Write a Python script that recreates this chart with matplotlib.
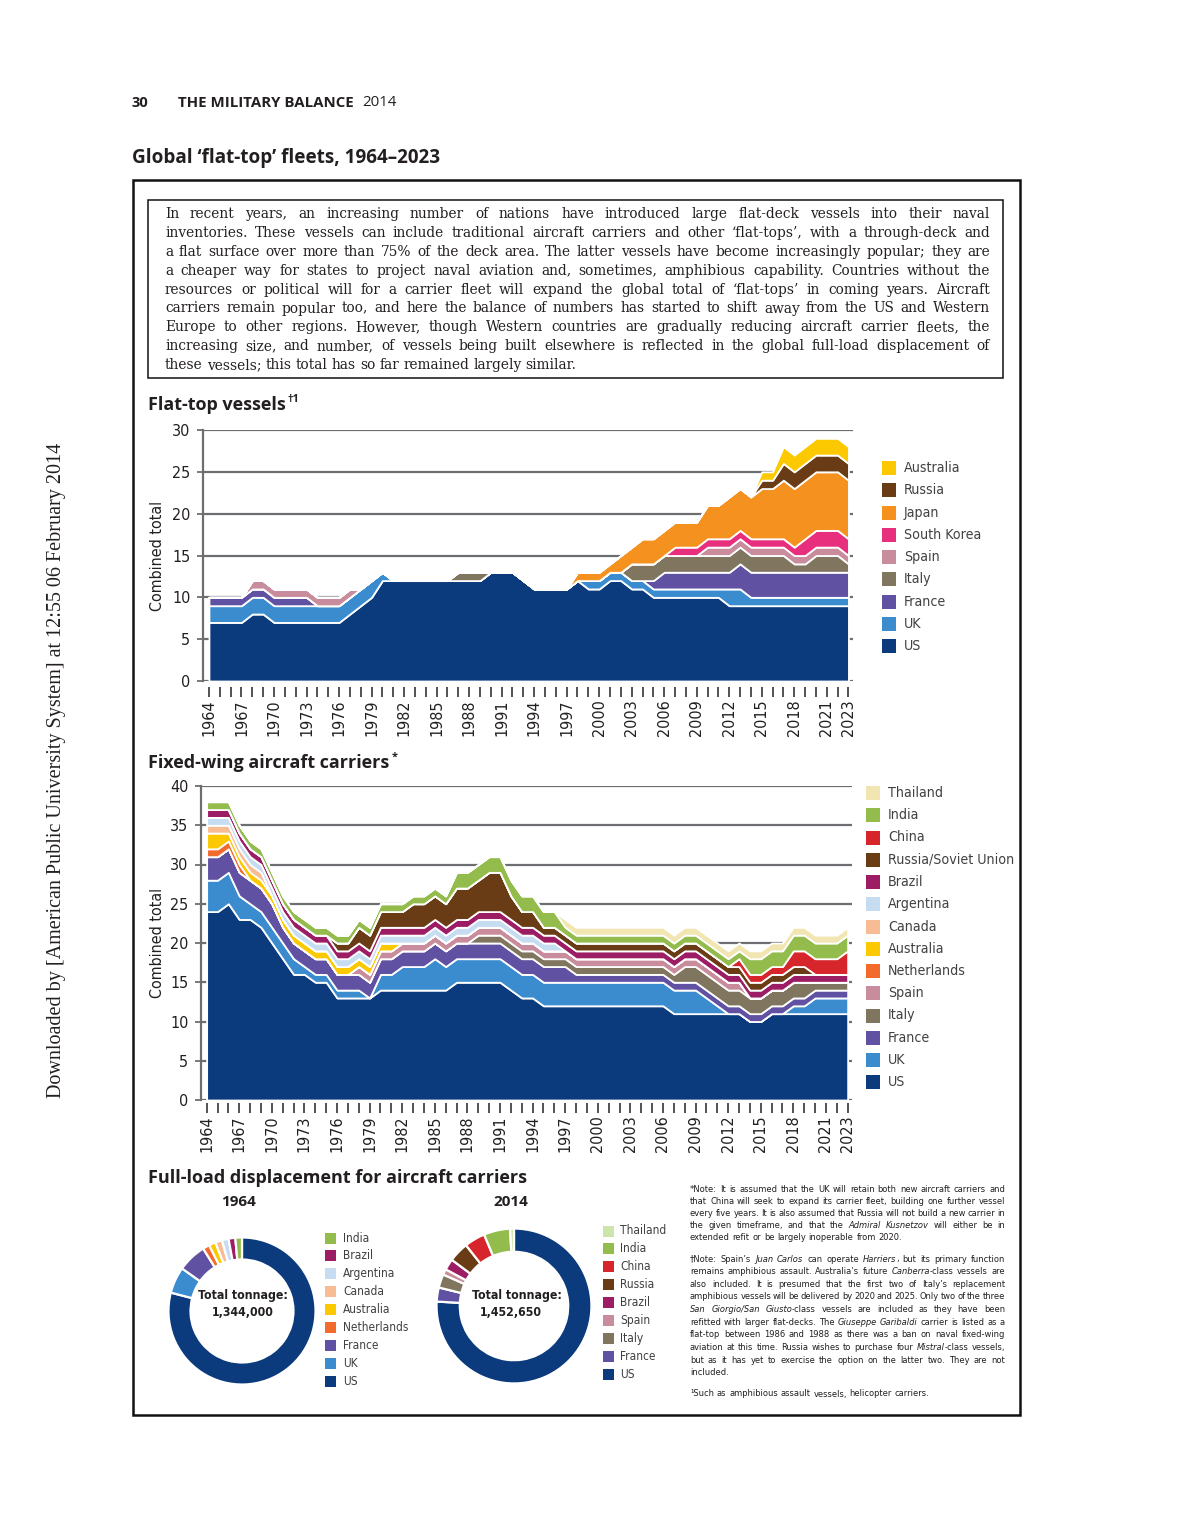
import matplotlib.pyplot as plt
from matplotlib.patches import Rectangle
from matplotlib import font_manager as fm

# ---------------- data ----------------
years = list(range(1964, 2024))
tick_years = [1964, 1967, 1970, 1973, 1976, 1979, 1982, 1985, 1988, 1991, 1994,
              1997, 2000, 2003, 2006, 2009, 2012, 2015, 2018, 2021, 2023]

# flat-top vessels, 1964..2023 (stack order bottom -> top)
ft_us = [7, 7, 7, 7, 8, 8, 7, 7, 7, 7,
         7, 7, 7, 8, 9, 10, 12, 12, 12, 12,
         12, 12, 12, 12, 12, 12, 13, 13, 13, 12,
         11, 11, 11, 11, 12, 11, 11, 12, 12, 11,
         11, 10, 10, 10, 10, 10, 10, 10, 9, 9,
         9, 9, 9, 9, 9, 9, 9, 9, 9, 9]
ft_uk = [2, 2, 2, 2, 2, 2, 2, 2, 2, 2,
         2, 2, 2, 2, 2, 2, 1, 0, 0, 0,
         0, 0, 0, 0, 0, 0, 0, 0, 0, 0,
         0, 0, 0, 0, 0, 1, 1, 1, 1, 1,
         1, 1, 1, 1, 1, 1, 1, 1, 2, 2,
         1, 1, 1, 1, 1, 1, 1, 1, 1, 1]
ft_france = [1, 1, 1, 1, 1, 1, 1, 1, 1, 1,
             0, 0, 0, 0, 0, 0, 0, 0, 0, 0,
             0, 0, 0, 0, 0, 0, 0, 0, 0, 0,
             0, 0, 0, 0, 0, 0, 0, 0, 0, 0,
             0, 1, 2, 2, 2, 2, 2, 2, 2, 3,
             3, 3, 3, 3, 3, 3, 3, 3, 3, 3]
ft_italy = [0, 0, 0, 0, 0, 0, 0, 0, 0, 0,
            0, 0, 0, 0, 0, 0, 0, 0, 0, 0,
            0, 0, 0, 1, 1, 1, 0, 0, 0, 0,
            0, 0, 0, 0, 0, 0, 0, 0, 0, 2,
            2, 2, 2, 2, 2, 2, 2, 2, 2, 2,
            2, 2, 2, 2, 1, 1, 2, 2, 2, 1]
ft_spain = [0, 0, 0, 0, 1, 1, 1, 1, 1, 1,
            1, 1, 1, 1, 0, 0, 0, 0, 0, 0,
            0, 0, 0, 0, 0, 0, 0, 0, 0, 0,
            0, 0, 0, 0, 0, 0, 0, 0, 0, 0,
            0, 0, 0, 0, 0, 0, 1, 1, 1, 1,
            1, 1, 1, 1, 1, 1, 1, 1, 1, 1]
ft_skorea = [0, 0, 0, 0, 0, 0, 0, 0, 0, 0,
             0, 0, 0, 0, 0, 0, 0, 0, 0, 0,
             0, 0, 0, 0, 0, 0, 0, 0, 0, 0,
             0, 0, 0, 0, 0, 0, 0, 0, 0, 0,
             0, 0, 0, 1, 1, 1, 1, 1, 1, 1,
             1, 1, 1, 1, 1, 2, 2, 2, 2, 2]
ft_japan = [0, 0, 0, 0, 0, 0, 0, 0, 0, 0,
            0, 0, 0, 0, 0, 0, 0, 0, 0, 0,
            0, 0, 0, 0, 0, 0, 0, 0, 0, 0,
            0, 0, 0, 0, 1, 1, 1, 1, 2, 2,
            3, 3, 3, 3, 3, 3, 4, 4, 5, 5,
            5, 6, 6, 7, 7, 7, 7, 7, 7, 7]
ft_russia = [0, 0, 0, 0, 0, 0, 0, 0, 0, 0,
             0, 0, 0, 0, 0, 0, 0, 0, 0, 0,
             0, 0, 0, 0, 0, 0, 0, 0, 0, 0,
             0, 0, 0, 0, 0, 0, 0, 0, 0, 0,
             0, 0, 0, 0, 0, 0, 0, 0, 0, 0,
             0, 1, 1, 2, 2, 2, 2, 2, 2, 2]
ft_australia = [0, 0, 0, 0, 0, 0, 0, 0, 0, 0,
                0, 0, 0, 0, 0, 0, 0, 0, 0, 0,
                0, 0, 0, 0, 0, 0, 0, 0, 0, 0,
                0, 0, 0, 0, 0, 0, 0, 0, 0, 0,
                0, 0, 0, 0, 0, 0, 0, 0, 0, 0,
                0, 1, 1, 2, 2, 2, 2, 2, 2, 2]

# fixed-wing aircraft carriers, 1964..2023
fw_us = [24, 24, 25, 23, 23, 22, 20, 18, 16, 16,
         15, 15, 13, 13, 13, 13, 14, 14, 14, 14,
         14, 14, 14, 15, 15, 15, 15, 15, 14, 13,
         13, 12, 12, 12, 12, 12, 12, 12, 12, 12,
         12, 12, 12, 11, 11, 11, 11, 11, 11, 11,
         10, 10, 11, 11, 11, 11, 11, 11, 11, 11]
fw_uk = [4, 4, 4, 3, 2, 2, 2, 2, 2, 1,
         1, 1, 1, 1, 1, 0, 2, 2, 3, 3,
         3, 4, 3, 3, 3, 3, 3, 3, 3, 3,
         3, 3, 3, 3, 3, 3, 3, 3, 3, 3,
         3, 3, 3, 3, 3, 3, 2, 1, 0, 0,
         0, 0, 0, 0, 1, 1, 2, 2, 2, 2]
fw_france = [3, 3, 3, 3, 3, 3, 3, 2, 2, 2,
             2, 2, 2, 2, 2, 2, 2, 2, 2, 2,
             2, 2, 2, 2, 2, 2, 2, 2, 2, 2,
             2, 2, 2, 2, 1, 1, 1, 1, 1, 1,
             1, 1, 1, 1, 1, 1, 1, 1, 1, 1,
             1, 1, 1, 1, 1, 1, 1, 1, 1, 1]
fw_italy = [0, 0, 0, 0, 0, 0, 0, 0, 0, 0,
            0, 0, 0, 0, 0, 0, 0, 0, 0, 0,
            0, 0, 0, 0, 0, 1, 1, 1, 1, 1,
            1, 1, 1, 1, 1, 1, 1, 1, 1, 1,
            1, 1, 1, 1, 2, 2, 2, 2, 2, 2,
            2, 2, 2, 2, 2, 2, 1, 1, 1, 1]
fw_spain = [0, 0, 0, 0, 0, 0, 0, 0, 0, 0,
            0, 0, 0, 0, 1, 1, 1, 1, 1, 1,
            1, 1, 1, 1, 1, 1, 1, 1, 1, 1,
            1, 1, 1, 1, 1, 1, 1, 1, 1, 1,
            1, 1, 1, 1, 1, 1, 1, 1, 1, 1,
            0, 0, 0, 0, 0, 0, 0, 0, 0, 0]
fw_netherlands = [1, 1, 1, 1, 0, 0, 0, 0, 0, 0,
                  0, 0, 0, 0, 0, 0, 0, 0, 0, 0,
                  0, 0, 0, 0, 0, 0, 0, 0, 0, 0,
                  0, 0, 0, 0, 0, 0, 0, 0, 0, 0,
                  0, 0, 0, 0, 0, 0, 0, 0, 0, 0,
                  0, 0, 0, 0, 0, 0, 0, 0, 0, 0]
fw_australia = [2, 2, 1, 1, 1, 1, 1, 1, 1, 1,
                1, 1, 1, 1, 1, 1, 1, 1, 0, 0,
                0, 0, 0, 0, 0, 0, 0, 0, 0, 0,
                0, 0, 0, 0, 0, 0, 0, 0, 0, 0,
                0, 0, 0, 0, 0, 0, 0, 0, 0, 0,
                0, 0, 0, 0, 0, 0, 0, 0, 0, 0]
fw_canada = [1, 1, 1, 1, 1, 1, 0, 0, 0, 0,
             0, 0, 0, 0, 0, 0, 0, 0, 0, 0,
             0, 0, 0, 0, 0, 0, 0, 0, 0, 0,
             0, 0, 0, 0, 0, 0, 0, 0, 0, 0,
             0, 0, 0, 0, 0, 0, 0, 0, 0, 0,
             0, 0, 0, 0, 0, 0, 0, 0, 0, 0]
fw_argentina = [1, 1, 1, 1, 1, 1, 1, 1, 1, 1,
                1, 1, 1, 1, 1, 1, 1, 1, 1, 1,
                1, 1, 1, 1, 1, 1, 1, 1, 1, 1,
                1, 1, 1, 0, 0, 0, 0, 0, 0, 0,
                0, 0, 0, 0, 0, 0, 0, 0, 0, 0,
                0, 0, 0, 0, 0, 0, 0, 0, 0, 0]
fw_brazil = [1, 1, 1, 1, 1, 1, 1, 1, 1, 1,
             1, 1, 1, 1, 1, 1, 1, 1, 1, 1,
             1, 1, 1, 1, 1, 1, 1, 1, 1, 1,
             1, 1, 1, 1, 1, 1, 1, 1, 1, 1,
             1, 1, 1, 1, 1, 1, 1, 1, 1, 1,
             1, 1, 1, 1, 1, 1, 1, 1, 1, 1]
fw_russia = [0, 0, 0, 0, 0, 0, 0, 0, 0, 0,
             0, 0, 1, 1, 2, 2, 2, 2, 2, 3,
             3, 3, 3, 4, 4, 4, 5, 5, 3, 2,
             2, 1, 1, 1, 1, 1, 1, 1, 1, 1,
             1, 1, 1, 1, 1, 1, 1, 1, 1, 1,
             1, 1, 1, 1, 1, 1, 0, 0, 0, 0]
fw_china = [0, 0, 0, 0, 0, 0, 0, 0, 0, 0,
            0, 0, 0, 0, 0, 0, 0, 0, 0, 0,
            0, 0, 0, 0, 0, 0, 0, 0, 0, 0,
            0, 0, 0, 0, 0, 0, 0, 0, 0, 0,
            0, 0, 0, 0, 0, 0, 0, 0, 0, 1,
            1, 1, 1, 1, 2, 2, 2, 2, 2, 3]
fw_india = [1, 1, 1, 1, 1, 1, 1, 1, 1, 1,
            1, 1, 1, 1, 1, 1, 1, 1, 1, 1,
            1, 1, 1, 2, 2, 2, 2, 2, 2, 2,
            2, 2, 2, 1, 1, 1, 1, 1, 1, 1,
            1, 1, 1, 1, 1, 1, 1, 1, 1, 1,
            2, 2, 2, 2, 2, 2, 2, 2, 2, 2]
fw_thailand = [0, 0, 0, 0, 0, 0, 0, 0, 0, 0,
               0, 0, 0, 0, 0, 0, 0, 0, 0, 0,
               0, 0, 0, 0, 0, 0, 0, 0, 0, 0,
               0, 0, 0, 1, 1, 1, 1, 1, 1, 1,
               1, 1, 1, 1, 1, 1, 1, 1, 1, 1,
               1, 1, 1, 1, 1, 1, 1, 1, 1, 1]

# full-load displacement (tonnes), clockwise from 12 o'clock
ton64_names = ['US', 'UK', 'France', 'Netherlands', 'Australia', 'Canada',
               'Argentina', 'Brazil', 'India']
ton64 = [1062000, 78000, 85000, 19900, 20000, 20000, 19600, 19900, 19600]
ton14_names = ['US', 'France', 'Italy', 'Spain', 'Brazil', 'Russia', 'China',
               'India', 'Thailand']
ton14 = [1102750, 42500, 41000, 17200, 33700, 61000, 63000, 80000, 11500]

# ---------------- styling ----------------
C = {'US': '#0b3a7d', 'UK': '#3a8ccf', 'France': '#6151a2', 'Italy': '#80765f',
     'Spain': '#c98c9c', 'South Korea': '#e82f7d', 'Japan': '#f5921f',
     'Russia': '#6a3c15', 'Australia': '#fcc800', 'Netherlands': '#f26a2c',
     'Canada': '#f8bc94', 'Argentina': '#c6dcf1', 'Brazil': '#9c1d64',
     'China': '#d7262b', 'India': '#94bc4c', 'Thailand': '#f1e6b2'}
THAI_DONUT = '#cde5ad'
INK = '#231f20'
GRID = '#6d6e71'
HEAD = ['Open Sans', 'DejaVu Sans']
SERIF = ['Liberation Serif', 'DejaVu Serif']
BODY = ['DejaVu Serif']

# condensed face for chart text if it is installed
_cond = [f for f in fm.fontManager.ttflist
         if f.name == 'DejaVu Sans' and 'condensed' in str(f.stretch)]
if _cond:
    NARROW = dict(family='DejaVu Sans', stretch='condensed')
    NSCALE = 1.0
else:
    NARROW = dict(family='Liberation Sans')
    NSCALE = 0.9

W, H = 1186, 1534
fig = plt.figure(figsize=(W / 100, H / 100), dpi=100)
R = fig.canvas.get_renderer()


def fx(x):
    return x / W


def fy(y):
    return 1 - y / H


def rect(l, t, r, b):
    return [fx(l), fy(b), (r - l) / W, (b - t) / H]


def ntext(x, y, s, size, **kw):
    return fig.text(fx(x), fy(y), s, fontsize=size * NSCALE, **NARROW, **kw)


def area_chart(box, series, colors, ymax, xl, out):
    ax = fig.add_axes(box)
    ax.stackplot(years, *series, colors=colors, edgecolor='white', linewidth=1.3)
    ax.set_xlim(*xl)
    ax.set_ylim(0, ymax)
    ax.set_yticks(range(0, ymax + 1, 5))
    ax.grid(axis='y', color=GRID, linewidth=1.6)
    ax.set_axisbelow(True)
    for s in ['top', 'right', 'bottom']:
        ax.spines[s].set_visible(False)
    ax.spines['left'].set_color(GRID)
    ax.spines['left'].set_linewidth(1.6)
    ax.spines['bottom'].set_position(('outward', out))
    ax.set_xticks(tick_years)
    ax.set_xticks(years, minor=True)
    ax.set_xticklabels([str(y) for y in tick_years], rotation=90)
    ax.tick_params(axis='x', which='both', length=7, width=1.3, color='#444444', pad=2)
    ax.tick_params(axis='y', length=4, width=1.3, color=GRID, pad=5)
    for t in ax.get_xticklabels() + ax.get_yticklabels():
        t.set_fontproperties(fm.FontProperties(size=11.5 * NSCALE, **NARROW))
        t.set_color(INK)
    ax.set_ylabel('Combined total', fontsize=11.5 * NSCALE, color=INK, **NARROW)
    return ax


def legend(items, xs, xl, y0, dy, sw, size):
    for i, (lab, col) in enumerate(items):
        y = y0 + i * dy
        fig.patches.append(Rectangle((fx(xs), fy(y + sw / 2)), sw / W, sw / H,
                                     transform=fig.transFigure, facecolor=col,
                                     edgecolor='none'))
        ntext(xl, y, lab, size, va='center', ha='left', color='#414042')


def heading(x, y, s, size, sup=None):
    t = fig.text(fx(x), fy(y), s, family=HEAD, fontsize=size, fontweight='bold',
                 color=INK, va='center')
    if sup:
        w = t.get_window_extent(R).width
        fig.text(fx(x + w + 2), fy(y - 6), sup, family=HEAD, fontsize=size * 0.6,
                 fontweight='bold', color=INK, va='center')
    return t


def text_line(line, x0, x1, y, size, font, just=True):
    ital = False
    words = []
    total = 0
    for token in line.split(' '):
        segs = []
        for k, part in enumerate(token.split('~')):
            if k > 0:
                ital = not ital
            if part:
                t = fig.text(0, fy(y), part, fontsize=size, style='italic' if ital else 'normal',
                             color=INK, va='baseline', ha='left', **font)
                w = t.get_window_extent(R).width
                segs.append((t, w))
                total += w
        words.append(segs)
    n = len(words)
    natural = size * 0.3 * 100 / 72
    gap = (x1 - x0 - total) / (n - 1) if (just and n > 1) else natural
    gap = max(gap, natural * 0.5)
    x = x0
    for segs in words:
        for t, w in segs:
            t.set_x(fx(x))
            x += w
        x += gap


# ---------------- page furniture ----------------
fig.text(fx(132), fy(103), '30', family=HEAD, fontsize=10.5, fontweight='bold',
         color=INK, va='center')
fig.text(fx(178), fy(103), 'THE MILITARY BALANCE', family=HEAD, fontsize=10.8,
         fontweight='bold', color=INK, va='center')
fig.text(fx(362), fy(103), '2014', family=HEAD, fontsize=10.8, color=INK, va='center')
heading(132, 158, 'Global \u2018flat-top\u2019 fleets, 1964\u20132023', 13.6)
fig.text(fx(57), fy(770),
         'Downloaded by [American Public University System] at 12:55 06 February 2014',
         rotation=90, ha='center', va='center', family=SERIF, fontsize=14.5, color=INK)

fig.patches.append(Rectangle((fx(133), fy(1415)), (1020 - 133) / W, (1415 - 180) / H,
                             fill=False, edgecolor='#111111', linewidth=1.8,
                             transform=fig.transFigure))
fig.patches.append(Rectangle((fx(148), fy(378)), (1003 - 148) / W, (378 - 200) / H,
                             fill=False, edgecolor='#111111', linewidth=1.1,
                             transform=fig.transFigure))

intro = [
    "In recent years, an increasing number of nations have introduced large flat-deck vessels into their naval",
    "inventories. These vessels can include traditional aircraft carriers and other \u2018flat-tops\u2019, with a through-deck and",
    "a flat surface over more than 75% of the deck area. The latter vessels have become increasingly popular; they are",
    "a cheaper way for states to project naval aviation and, sometimes, amphibious capability. Countries without the",
    "resources or political will for a carrier fleet will expand the global total of \u2018flat-tops\u2019 in coming years. Aircraft",
    "carriers remain popular too, and here the balance of numbers has started to shift away from the US and Western",
    "Europe to other regions. However, though Western countries are gradually reducing aircraft carrier fleets, the",
    "increasing size, and number, of vessels being built elsewhere is reflected in the global full-load displacement of",
    "these vessels; this total has so far remained largely similar.",
]
for i, line in enumerate(intro):
    text_line(line, 165, 990, 218 + i * 18.9, 9.9, dict(family=BODY),
              just=(i < len(intro) - 1))

# ---------------- flat-top vessels ----------------
heading(148, 405, 'Flat-top vessels', 13, sup='\u20201')

ft_names = ['US', 'UK', 'France', 'Italy', 'Spain', 'South Korea', 'Japan',
            'Russia', 'Australia']
ft_series = [ft_us, ft_uk, ft_france, ft_italy, ft_spain, ft_skorea, ft_japan,
             ft_russia, ft_australia]
ax1 = area_chart(rect(203, 430, 853, 681), ft_series, [C[n] for n in ft_names],
                 30, (1963.45, 2023.42), 4)
ax1.yaxis.set_label_coords((165 - 203) / 650, 0.5)
legend([(n, C[n]) for n in ft_names[::-1]], 882, 904, 468, 22.25, 14, 10.2)

# ---------------- fixed-wing carriers ----------------
heading(148, 763, 'Fixed-wing aircraft carriers', 13, sup='*')

fw_names = ['US', 'UK', 'France', 'Italy', 'Spain', 'Netherlands', 'Australia',
            'Canada', 'Argentina', 'Brazil', 'Russia', 'China', 'India', 'Thailand']
fw_series = [fw_us, fw_uk, fw_france, fw_italy, fw_spain, fw_netherlands,
             fw_australia, fw_canada, fw_argentina, fw_brazil, fw_russia,
             fw_china, fw_india, fw_thailand]
ax2 = area_chart(rect(201, 786, 852, 1100), fw_series, [C[n] for n in fw_names],
                 40, (1963.48, 2023.4), 2)
ax2.yaxis.set_label_coords((165 - 201) / 651, 0.5)
fw_labels = ['Russia/Soviet Union' if n == 'Russia' else n for n in fw_names]
legend(list(zip(fw_labels[::-1], [C[n] for n in fw_names[::-1]])),
       866, 888, 793, 22.25, 14, 10.2)

# ---------------- donuts ----------------
heading(148, 1178, 'Full-load displacement for aircraft carriers', 13)


def donut(cx, cy, rad, vals, cols, year, total, tx1, tx2):
    ax = fig.add_axes(rect(cx - rad, cy - rad, cx + rad, cy + rad))
    ax.pie(vals, colors=cols, startangle=90, counterclock=False, radius=1,
           wedgeprops=dict(width=0.3, edgecolor='white', linewidth=1.6))
    ax.set_xlim(-1.02, 1.02)
    ax.set_ylim(-1.02, 1.02)
    ax.axis('off')
    fig.text(fx(cx - 3), fy(1202), year, family=HEAD, fontsize=11,
             fontweight='bold', color=INK, ha='center', va='center')
    ntext(tx1, 1295, 'Total tonnage:', 8.8, fontweight='bold', color=INK,
          ha='center', va='center')
    ntext(tx2, 1312, total, 8.8, fontweight='bold', color=INK,
          ha='center', va='center')


donut(242, 1311, 75, ton64, [C[n] for n in ton64_names], '1964', '1,344,000',
      242.5, 242.5)
donut(514, 1306, 79, ton14,
      [THAI_DONUT if n == 'Thailand' else C[n] for n in ton14_names], '2014',
      '1,452,650', 517, 511)

legend([(n, C[n]) for n in ton64_names[::-1]], 325, 343, 1238, 17.9, 11, 8.6)
legend([(n, THAI_DONUT if n == 'Thailand' else C[n]) for n in ton14_names[::-1]],
       603, 620, 1231, 17.9, 11, 8.6)

# ---------------- notes ----------------
note1 = [
    "*Note: It is assumed that the UK will retain both new aircraft carriers and",
    "that China will seek to expand its carrier fleet, building one further vessel",
    "every five years. It is also assumed that Russia will not build a new carrier in",
    "the given timeframe, and that the ~Admiral Kusnetzov~ will either be in",
    "extended refit or be largely inoperable from 2020.",
]
note2 = [
    "\u2020Note: Spain\u2019s ~Juan Carlos~ can operate ~Harriers~, but its primary function",
    "remains amphibious assault. Australia\u2019s future ~Canberra~-class vessels are",
    "also included. It is presumed that the first two of Italy\u2019s replacement",
    "amphibious vessels will be delivered by 2020 and 2025. Only two of the three",
    "~San Giorgio/San Giusto~-class vessels are included as they have been",
    "refitted with larger flat-decks. The ~Giuseppe Garibaldi~ carrier is listed as a",
    "flat-top between 1986 and 1988 as there was a ban on naval fixed-wing",
    "aviation at this time. Russia wishes to purchase four ~Mistral~-class vessels,",
    "but as it has yet to exercise the option on the latter two. They are not",
    "included.",
]
nsz = 6.7 * NSCALE
for i, line in enumerate(note1):
    text_line(line, 690, 1005, 1191.5 + i * 12.2, nsz, NARROW, just=(i < len(note1) - 1))
for i, line in enumerate(note2):
    text_line(line, 690, 1005, 1261.5 + i * 12.65, nsz, NARROW, just=(i < len(note2) - 1))
text_line("\u00b9Such as amphibious assault vessels, helicopter carriers.", 690, 1005,
          1396.5, nsz, NARROW, just=False)

fig.savefig('out.png', dpi=100)
